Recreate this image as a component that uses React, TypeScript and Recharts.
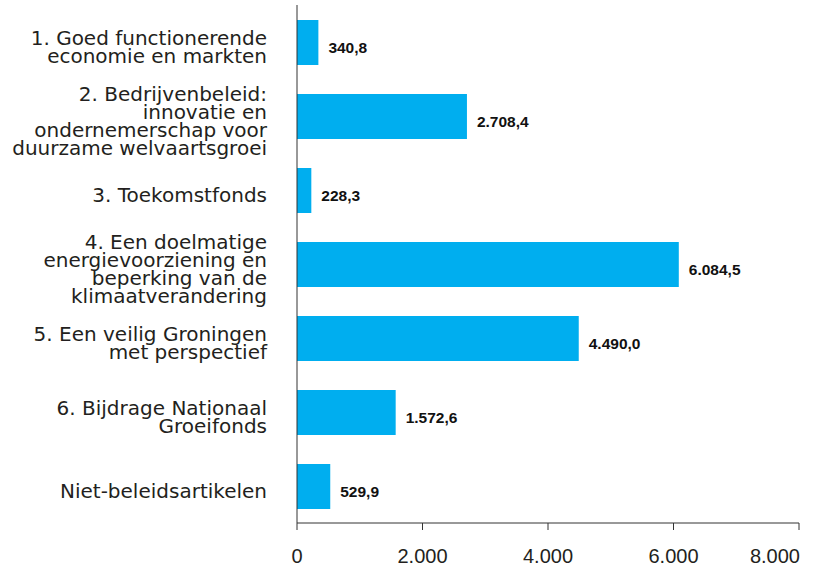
import React from 'react';
import { Bar, BarChart, LabelList, XAxis, YAxis } from 'recharts';

const categories = [
  '1. Goed functionerende\neconomie en markten',
  '2. Bedrijvenbeleid:\ninnovatie en\nondernemerschap voor\nduurzame welvaartsgroei',
  '3. Toekomstfonds',
  '4. Een doelmatige\nenergievoorziening en\nbeperking van de\nklimaatverandering',
  '5. Een veilig Groningen\nmet perspectief',
  '6. Bijdrage Nationaal\nGroeifonds',
  'Niet-beleidsartikelen'
];
const values = [340.8, 2708.4, 228.3, 6084.5, 4490.0, 1572.6, 529.9];
const xTicks = [0, 2000, 4000, 6000, 8000];

const data = categories.map((name, i) => ({ name, value: values[i] }));

const BAR_COLOR = '#00aeef';
const AXIS_COLOR = '#333333';
const TEXT_COLOR = '#231f20';

// dutch number format: 2.708,4
function groupThousands(s: string) {
  return s.replace(/\B(?=(\d{3})+(?!\d))/g, '.');
}
function fmtValue(v: number) {
  const [i, d] = v.toFixed(1).split('.');
  return groupThousands(i) + ',' + d;
}

const CategoryTick = (props: any) => {
  const { x, y, payload } = props;
  const lines: string[] = String(payload.value).split('\n');
  const lh = 18;
  const first = y + 12.3 - ((lines.length - 1) * lh) / 2;
  return (
    <text
      x={x}
      y={first}
      textAnchor="end"
      fill={TEXT_COLOR}
      fontFamily="'DejaVu Sans', sans-serif"
      fontSize={20}
    >
      {lines.map((l, i) => (
        <tspan key={i} x={x} y={first + i * lh}>
          {l}
        </tspan>
      ))}
    </text>
  );
};

const ValueTick = (props: any) => {
  const { x, y, payload } = props;
  const last = payload.value === xTicks[xTicks.length - 1];
  return (
    <text
      x={last ? x + 1 : x}
      y={y + 33}
      textAnchor={last ? 'end' : 'middle'}
      fill={TEXT_COLOR}
      fontFamily="'Liberation Sans', Arial, sans-serif"
      fontSize={20}
    >
      {groupThousands(String(payload.value))}
    </text>
  );
};

const BarValue = (props: any) => {
  const { x, y, width, height, value } = props;
  return (
    <text
      x={x + width + 10}
      y={y + height / 2 + 10.5}
      fill="#111"
      fontFamily="'Liberation Sans', Arial, sans-serif"
      fontWeight="bold"
      fontSize={15.5}
    >
      {fmtValue(value)}
    </text>
  );
};

export default function App() {
  return (
    <div style={{ position: 'absolute', left: 0, top: 0, background: '#fff' }}>
      <BarChart
        width={818}
        height={568}
        data={data}
        layout="vertical"
        margin={{ top: 5, right: 19, bottom: 0, left: 0 }}
        barSize={45}
      >
        <XAxis
          type="number"
          domain={[0, 8000]}
          ticks={xTicks}
          height={45}
          tickSize={7}
          tickMargin={0}
          axisLine={{ stroke: AXIS_COLOR }}
          tickLine={{ stroke: AXIS_COLOR }}
          tick={<ValueTick />}
        />
        <YAxis
          type="category"
          dataKey="name"
          width={297}
          interval={0}
          tickSize={0}
          tickMargin={30}
          tickLine={false}
          axisLine={{ stroke: AXIS_COLOR }}
          tick={<CategoryTick />}
        />
        <Bar dataKey="value" fill={BAR_COLOR} isAnimationActive={false}>
          <LabelList dataKey="value" content={<BarValue />} />
        </Bar>
      </BarChart>
    </div>
  );
}
